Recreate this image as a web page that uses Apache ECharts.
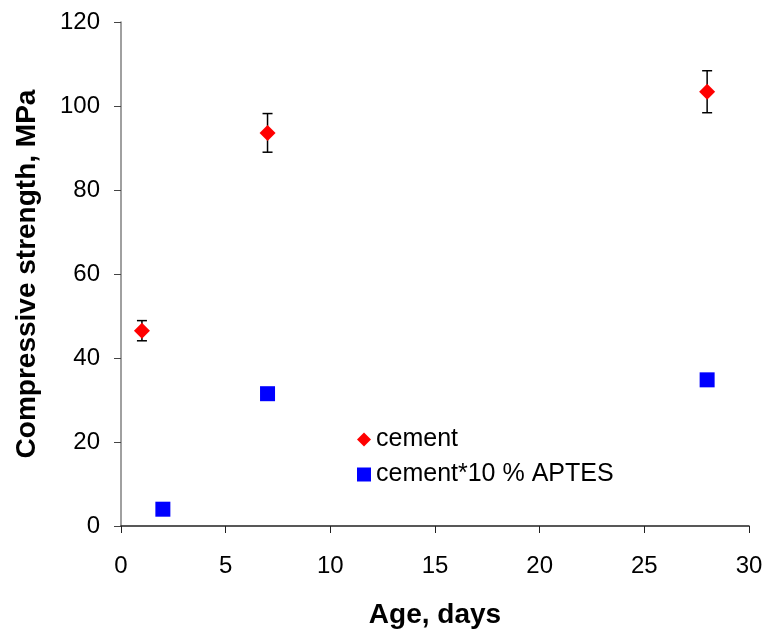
<!DOCTYPE html>
<html>
<head>
<meta charset="utf-8">
<script src="https://cdn.jsdelivr.net/npm/echarts@6/dist/echarts.min.js"></script>
<style>
  html, body { margin: 0; padding: 0; background: #fff; }
  #chart { width: 769px; height: 634px; }
</style>
</head>
<body>
<div id="chart"></div>
<script>
// data
var cementAge = [1, 7, 28];
var cementStrength = [46.5, 93.6, 103.4];
var cementError = [2.4, 4.6, 5.0];
var aptesAge = [2, 7, 28];
var aptesStrength = [4.0, 31.5, 34.8];
var xTicks = [0, 5, 10, 15, 20, 25, 30];
var yTicks = [0, 20, 40, 60, 80, 100, 120];

var font = 'Arial, "Liberation Sans", sans-serif';

var chart = echarts.init(document.getElementById('chart'));

var errData = cementAge.map(function (x, i) {
    return [x, cementStrength[i] - cementError[i], cementStrength[i] + cementError[i]];
});

var option = {
    animation: false,
    grid: { left: 121, right: 20, top: 22, bottom: 105 },
    legend: {
        orient: 'vertical',
        left: 352,
        top: 422,
        itemGap: 10,
        itemWidth: 14,
        itemHeight: 14,
        textStyle: { fontFamily: font, fontSize: 25, color: '#000' },
        data: [
            { name: 'cement', icon: 'diamond' },
            { name: 'cement*10 % APTES', icon: 'rect' }
        ]
    },
    xAxis: {
        type: 'value',
        min: xTicks[0],
        max: xTicks[xTicks.length - 1],
        interval: 5,
        name: 'Age, days',
        nameLocation: 'middle',
        nameGap: 75,
        nameTextStyle: { fontFamily: font, fontSize: 28, fontWeight: 'bold', color: '#000' },
        axisLine: { lineStyle: { color: '#222', width: 1.5 } },
        axisTick: { show: true, length: 7, lineStyle: { color: '#222' } },
        axisLabel: { fontFamily: font, fontSize: 24, color: '#000', margin: 28 },
        splitLine: { show: false }
    },
    yAxis: {
        type: 'value',
        min: yTicks[0],
        max: yTicks[yTicks.length - 1],
        interval: 20,
        name: 'Compressive strength, MPa',
        nameLocation: 'middle',
        nameGap: 80,
        nameTextStyle: { fontFamily: font, fontSize: 28, fontWeight: 'bold', color: '#000' },
        axisLine: { show: true, lineStyle: { color: '#808080', width: 1.5 } },
        axisTick: { show: true, length: 7, lineStyle: { color: '#444' } },
        axisLabel: { fontFamily: font, fontSize: 24, color: '#000', margin: 21 },
        splitLine: { show: false }
    },
    series: [
        {
            name: 'cement-err',
            type: 'custom',
            z: 1,
            data: errData,
            renderItem: function (params, api) {
                var x = api.value(0);
                var lo = api.coord([x, api.value(1)]);
                var hi = api.coord([x, api.value(2)]);
                var w = 5;
                var st = { stroke: '#000', lineWidth: 1.5 };
                return {
                    type: 'group',
                    children: [
                        { type: 'line', shape: { x1: lo[0], y1: lo[1], x2: hi[0], y2: hi[1] }, style: st },
                        { type: 'line', shape: { x1: lo[0] - w, y1: lo[1], x2: lo[0] + w, y2: lo[1] }, style: st },
                        { type: 'line', shape: { x1: hi[0] - w, y1: hi[1], x2: hi[0] + w, y2: hi[1] }, style: st }
                    ]
                };
            }
        },
        {
            name: 'cement',
            type: 'scatter',
            symbol: 'diamond',
            symbolSize: 16,
            z: 3,
            itemStyle: { color: '#ff0000', opacity: 1 },
            data: cementAge.map(function (x, i) { return [x, cementStrength[i]]; })
        },
        {
            name: 'cement*10 % APTES',
            type: 'scatter',
            symbol: 'rect',
            symbolSize: 15,
            z: 3,
            itemStyle: { color: '#0000ff', opacity: 1 },
            data: aptesAge.map(function (x, i) { return [x, aptesStrength[i]]; })
        }
    ]
};

chart.setOption(option);
</script>
</body>
</html>
